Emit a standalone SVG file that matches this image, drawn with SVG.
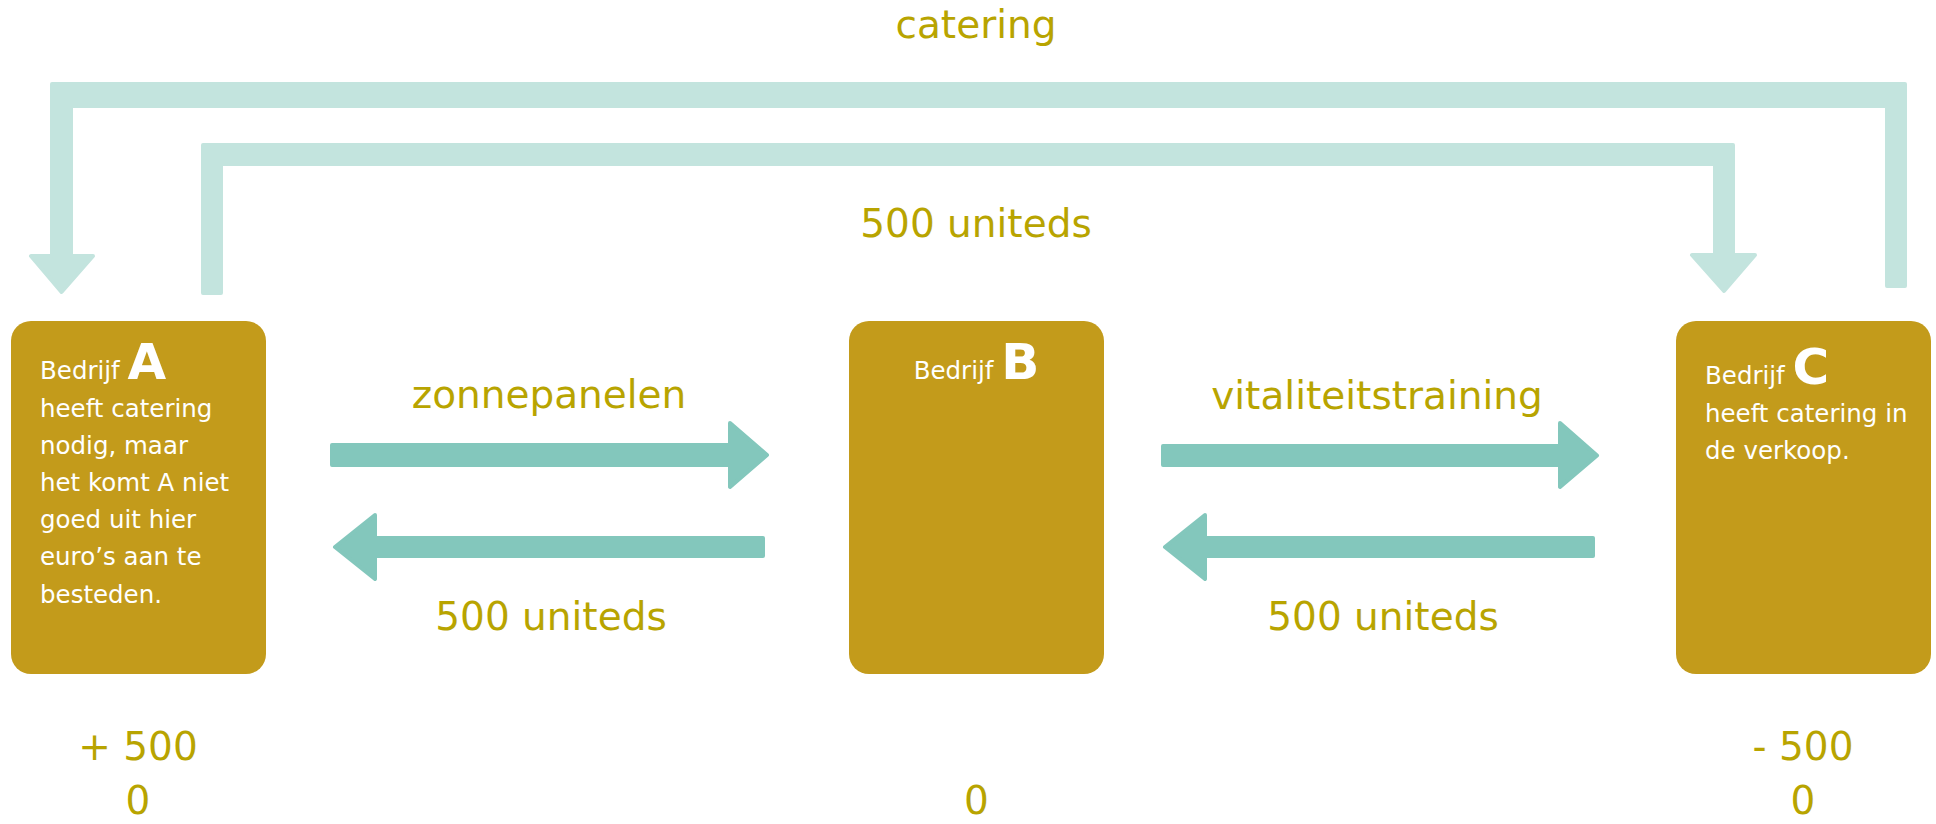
<svg xmlns="http://www.w3.org/2000/svg" width="1936" height="824" viewBox="0 0 1936 824">
<style>
.box{fill:#C39B1B}
.bt{font-family:"DejaVu Sans","Liberation Sans",sans-serif;font-size:24.5px;fill:#FFFFFF}
.big{font-size:50px;font-weight:bold}
.lbl{font-family:"DejaVu Sans","Liberation Sans",sans-serif;font-size:39px;fill:#B8A400;text-anchor:middle}
.arr{fill:#83C7BC;stroke:#83C7BC;stroke-width:4;stroke-linejoin:round}
.arrl{fill:#C3E4DE;stroke:#C3E4DE;stroke-width:4;stroke-linejoin:round}
</style>
<rect width="1936" height="824" fill="#FFFFFF"/>
<g id="connectors">
<path class="arrl" d="M1887,286 V106 H71 V256 H93 L61.5,292 L31,256 H52 V84 H1905 V286 Z"/>
<path class="arrl" d="M203,293 V145 H1733 V255 H1755 L1724,291 L1692,255 H1715 V164 H221 V293 Z"/>
<path class="arr" d="M332,445 H730 V423 L767,455 L730,487 V465 H332 Z"/>
<path class="arr" d="M763,538 H375 V515 L335,547 L375,579 V556 H763 Z"/>
<path class="arr" d="M1163,446 H1560 V423 L1597,455.5 L1560,487 V465 H1163 Z"/>
<path class="arr" d="M1593,538 H1205 V515 L1165,547 L1205,579 V556 H1593 Z"/>
<text class="lbl" x="976" y="38">catering</text>
<text class="lbl" x="976" y="237">500 uniteds</text>
<text class="lbl" x="549" y="408">zonnepanelen</text>
<text class="lbl" x="551" y="630">500 uniteds</text>
<text class="lbl" x="1377" y="409">vitaliteitstraining</text>
<text class="lbl" x="1383" y="630">500 uniteds</text>
</g>
<g id="nodeA">
<rect class="box" x="11" y="321" width="255" height="353" rx="20"/>
<text class="bt" x="40" y="379">Bedrijf <tspan class="big">A</tspan></text>
<text class="bt" x="40" y="417">heeft catering</text>
<text class="bt" x="40" y="454">nodig, maar</text>
<text class="bt" x="40" y="491">het komt A niet</text>
<text class="bt" x="40" y="528">goed uit hier</text>
<text class="bt" x="40" y="565">euro’s aan te</text>
<text class="bt" x="40" y="603">besteden.</text>
<text class="lbl" x="138" y="760">+ 500</text>
<text class="lbl" x="138" y="814">0</text>
</g>
<g id="nodeB">
<rect class="box" x="849" y="321" width="255" height="353" rx="20"/>
<text class="bt" x="976.5" y="379" text-anchor="middle">Bedrijf <tspan class="big">B</tspan></text>
<text class="lbl" x="976.5" y="814">0</text>
</g>
<g id="nodeC">
<rect class="box" x="1676" y="321" width="255" height="353" rx="20"/>
<text class="bt" x="1705" y="384">Bedrijf <tspan class="big">C</tspan></text>
<text class="bt" x="1705" y="422">heeft catering in</text>
<text class="bt" x="1705" y="459">de verkoop.</text>
<text class="lbl" x="1803" y="760">- 500</text>
<text class="lbl" x="1803" y="814">0</text>
</g>
</svg>
